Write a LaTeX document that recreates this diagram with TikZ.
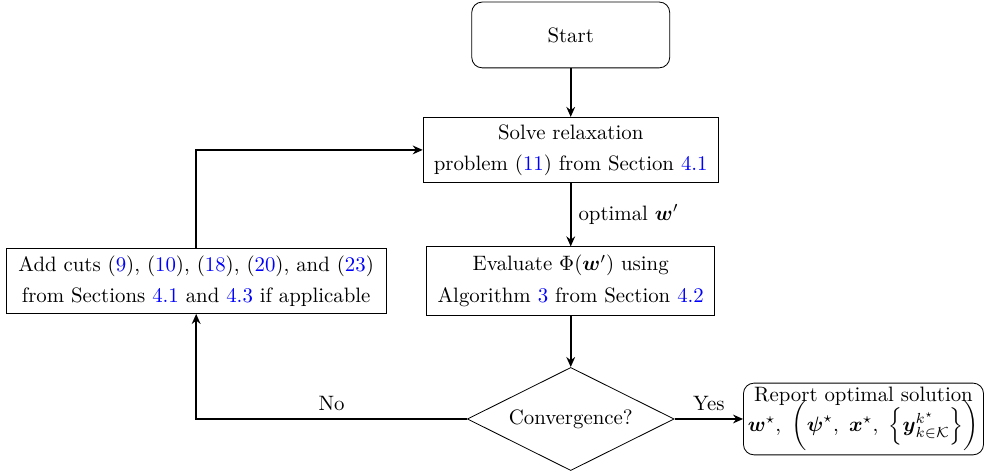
\documentclass[tikz,border=0pt]{standalone}
\usepackage{amsmath}
\usepackage{tikz}
\usetikzlibrary{arrows.meta,shapes.geometric}
\definecolor{refblue}{rgb}{0,0,1}
\newcommand{\rf}[1]{\textcolor{refblue}{#1}}

\begin{document}
\begin{tikzpicture}[scale=1,
                box/.style={draw, rectangle, align=center, inner sep=2pt},
                term/.style={box, rounded corners=5pt},
                decide/.style={draw, diamond, aspect=2, inner sep=0pt,
                    minimum width=3.49cm, minimum height=1.74cm},
                flow/.style={thick, -{Stealth[length=4.8pt,width=4.2pt]}}]
                \useasboundingbox (0,0) rectangle (16.62,8.01);
                \node[term, minimum width=3.34cm, minimum height=1.11cm] (start) at (9.63,7.42) {Start};
                \node[box, minimum width=4.98cm, minimum height=1.10cm] (solve) at (9.63,5.48)
                    {Solve relaxation\\[3pt] problem (\rf{11}) from Section \rf{4.1}};
                \node[box, minimum width=4.86cm, minimum height=1.15cm] (eval) at (9.63,3.27)
                    {Evaluate $\Phi(\boldsymbol{w}')$ using\\[3pt] Algorithm \rf{3} from Section \rf{4.2}};
                \node[box, minimum width=6.41cm, minimum height=1.10cm] (cuts) at (3.31,3.27)
                    {Add cuts (\rf{9}), (\rf{10}), (\rf{18}), (\rf{20}), and (\rf{23})\\[3pt]
                     from Sections \rf{4.1} and \rf{4.3} if applicable};
                \node[decide] (conv) at (9.63,0.94) {Convergence?};
                \node[term, minimum width=4.05cm, minimum height=1.21cm, inner sep=1pt] (report) at (14.57,0.94)
                    {Report optimal solution\\[-3pt]
                     $\boldsymbol{w}^\star,\ \bigg(\boldsymbol{\psi}^\star,\ \boldsymbol{x}^\star,\
                      \Big\{\boldsymbol{y}_{k\in\mathcal{K}}^{k^\star}\Big\}\bigg)$};
                \draw[flow] (start) -- (solve);
                \draw[flow] (solve) -- node[right] {optimal $\boldsymbol{w}'$} (eval);
                \draw[flow] (eval) -- (conv);
                \draw[flow] (conv) -- node[above] {Yes} (report);
                \draw[flow] (conv.west) -| node[above, pos=0.25] {No} (cuts.south);
                \draw[flow] (cuts.north) |- (solve.west);
            \end{tikzpicture}
\end{document}
